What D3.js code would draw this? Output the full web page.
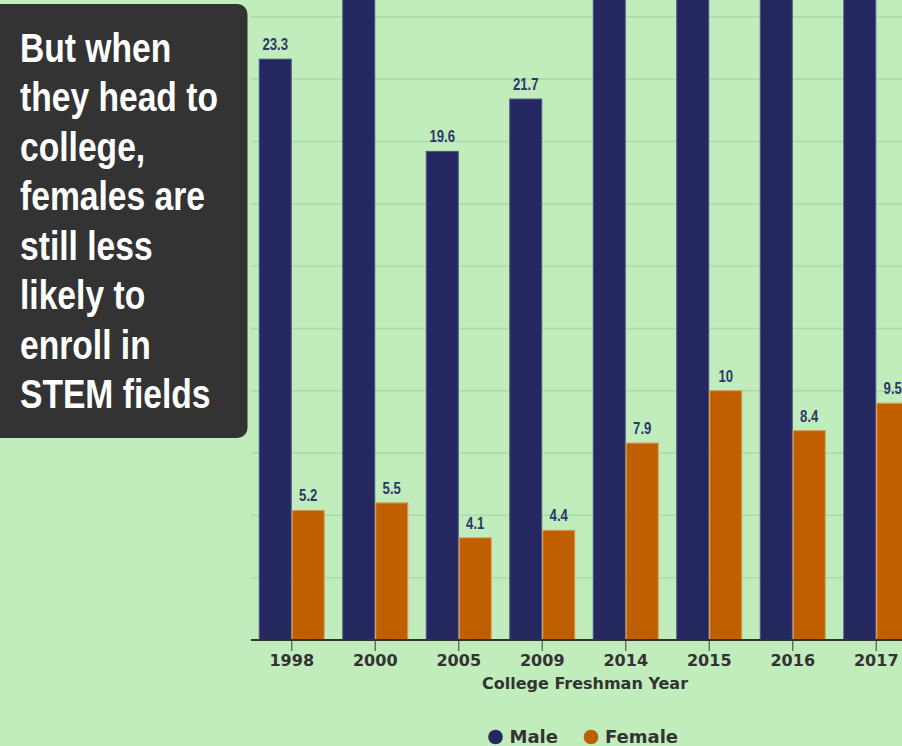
<!DOCTYPE html>
<html>
<head>
<meta charset="utf-8">
<script src="https://cdn.jsdelivr.net/npm/d3@7"></script>
<style>
  html, body { margin: 0; padding: 0; background: #c1ecbc; overflow: hidden; }
  svg { display: block; }
</style>
</head>
<body>
<svg id="chart" width="902" height="746"></svg>
<script>
// ---- data ----
const years = ["1998", "2000", "2005", "2009", "2014", "2015", "2016", "2017"];
const maleValues = [23.3, 27.6, 19.6, 21.7, 30.2, 31.9, 30.8, 32.0];
const femaleValues = [5.2, 5.5, 4.1, 4.4, 7.9, 10, 8.4, 9.5];
const seriesNames = ["Male", "Female"];
const gridTicks = [0, 2.5, 5, 7.5, 10, 12.5, 15, 17.5, 20, 22.5, 25];
const calloutLines = ["But when", "they head to", "college,", "females are", "still less", "likely to", "enroll in", "STEM fields"];
const xTitle = "College Freshman Year";

// ---- styles ----
const colors = { Male: "#252860", Female: "#c05f00" };
const narrow = 0.82;
const svg = d3.select("#chart");
const W = 902, H = 746;

svg.append("rect").attr("width", W).attr("height", H).attr("fill", "#c1ecbc");

const x = d3.scaleBand().domain(years).range([250, 918]).paddingInner(0.21).paddingOuter(0.105);
const xs = d3.scaleBand().domain(seriesNames).range([0, x.bandwidth()]);
const y = d3.scaleLinear().domain([0, 25]).range([640, 16.8]);

// gridlines
svg.append("g").selectAll("line").data(gridTicks).join("line")
  .attr("x1", 251).attr("x2", W)
  .attr("y1", d => y(d)).attr("y2", d => y(d))
  .attr("stroke", "#acd9a7").attr("stroke-width", 1.5);

// bars
const data = years.map((yr, i) => ({ year: yr, Male: maleValues[i], Female: femaleValues[i] }));
const groups = svg.append("g").selectAll("g").data(data).join("g")
  .attr("transform", d => `translate(${x(d.year)},0)`);

groups.selectAll("rect").data(d => seriesNames.map(s => ({ s, v: d[s] }))).join("rect")
  .attr("x", d => xs(d.s) + 0.5)
  .attr("width", xs.bandwidth() - 1)
  .attr("y", d => y(d.v))
  .attr("height", d => y(0) - y(d.v))
  .attr("fill", d => colors[d.s])
  .attr("stroke", d => d.s === "Male" ? "#4a5586" : "#dd9a55")
  .attr("stroke-width", 1);

groups.selectAll("text").data(d => seriesNames.map(s => ({ s, v: d[s] }))).join("text")
  .attr("transform", d => `translate(${xs(d.s) + xs.bandwidth() / 2},${y(d.v) - 9}) scale(${narrow},1)`)
  .attr("text-anchor", "middle")
  .attr("font-family", "'Liberation Sans', Arial, sans-serif")
  .attr("font-weight", "bold")
  .attr("font-size", 16)
  .attr("fill", "#2d3768")
  .text(d => d.v);

// x axis
const xAxis = d3.axisBottom(x).tickSize(11).tickPadding(4).tickSizeOuter(0);
const ax = svg.append("g").attr("transform", `translate(0,${y(0)})`).call(xAxis);
ax.select(".domain").remove();
ax.append("line").attr("x1", 251).attr("x2", W).attr("y1", 0).attr("y2", 0)
  .attr("stroke", "#333").attr("stroke-width", 2.2);
ax.selectAll(".tick line").attr("stroke", "#555").attr("stroke-width", 1.2);
ax.selectAll(".tick text")
  .attr("fill", "#333")
  .attr("font-family", "'DejaVu Sans', sans-serif")
  .attr("font-weight", "bold")
  .attr("font-size", 16);

svg.append("text")
  .attr("x", 585).attr("y", 689)
  .attr("text-anchor", "middle")
  .attr("font-family", "'DejaVu Sans', sans-serif")
  .attr("font-weight", "bold")
  .attr("font-size", 16)
  .attr("fill", "#333")
  .text(xTitle);

// legend
const legendX = [495.5, 591];
const lg = svg.append("g").selectAll("g").data(seriesNames).join("g")
  .attr("transform", (d, i) => `translate(${legendX[i]},737)`);
lg.append("circle").attr("r", 7.3).attr("fill", d => colors[d]);
lg.append("text").attr("x", 14).attr("y", 6.3)
  .attr("font-family", "'DejaVu Sans', sans-serif")
  .attr("font-weight", "bold")
  .attr("font-size", 18)
  .attr("fill", "#333")
  .text(d => d);

// callout box
svg.append("rect")
  .attr("x", -12).attr("y", 4).attr("width", 259.5).attr("height", 434)
  .attr("rx", 10).attr("ry", 10)
  .attr("fill", "#333333");
svg.append("g").selectAll("text").data(calloutLines).join("text")
  .attr("transform", (d, i) => `translate(20,${61.7 + i * 49.5}) scale(${narrow},1)`)
  .attr("font-family", "'Liberation Sans', Arial, sans-serif")
  .attr("font-weight", "bold")
  .attr("font-size", 41)
  .attr("fill", "#ffffff")
  .text(d => d);
</script>
</body>
</html>
